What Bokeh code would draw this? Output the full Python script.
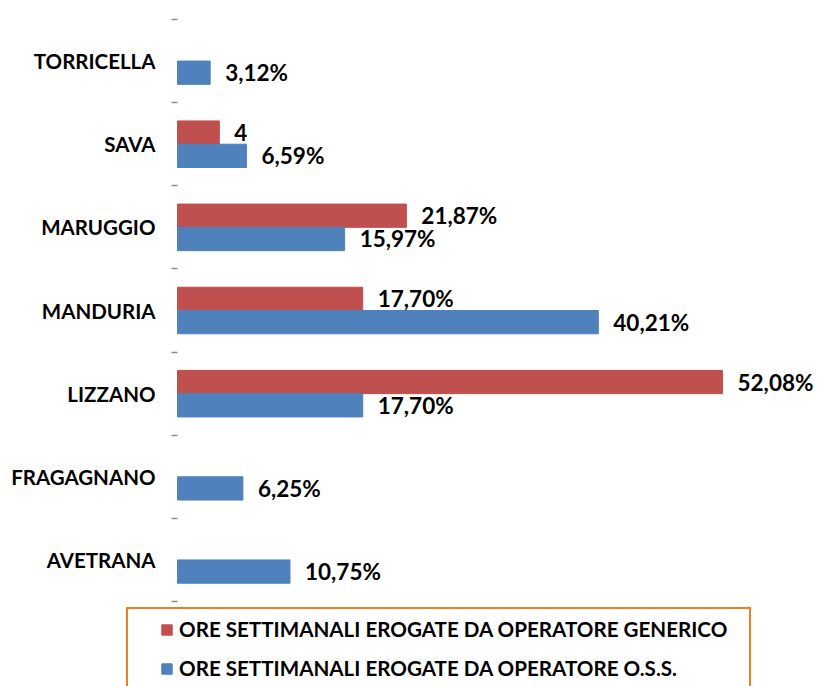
from bokeh.plotting import figure
from bokeh.models import (ColumnDataSource, Range1d, FixedTicker, Legend, LegendItem)
from bokeh.transform import dodge
from bokeh.core.properties import value
from bokeh.embed import file_html
from bokeh.resources import INLINE

# ---- data ----
cities = ["AVETRANA", "FRAGAGNANO", "LIZZANO", "MANDURIA", "MARUGGIO", "SAVA", "TORRICELLA"]
oss_values = [10.75, 6.25, 17.70, 40.21, 15.97, 6.59, 3.12]
oss_labels = ["10,75%", "6,25%", "17,70%", "40,21%", "15,97%", "6,59%", "3,12%"]
gen_values = [None, None, 52.08, 17.70, 21.87, 4, None]
gen_labels = [None, None, "52,08%", "17,70%", "21,87%", "4", None]
series_names = ["ORE SETTIMANALI EROGATE DA OPERATORE GENERICO",
                "ORE SETTIMANALI EROGATE DA OPERATORE O.S.S."]

RED = "#C0504D"
BLUE = "#4F81BD"
ORANGE = "#EF7D22"
FONT = "Lato"

W, H = 820, 686
PX_PER_PCT = 10.465         # horizontal scale
ZERO_X = 177                # page x of value 0
CAT_TOP, CAT_BOT = 19, 601  # page y of the category block
n = len(cities)
px_unit = (CAT_BOT - CAT_TOP) / n

ypos = [i + 0.5 for i in range(n)]
oss_src = ColumnDataSource(dict(y=ypos, v=oss_values, lab=oss_labels))
gi = [i for i, v in enumerate(gen_values) if v is not None]
gen_src = ColumnDataSource(dict(y=[ypos[i] for i in gi],
                                v=[gen_values[i] for i in gi],
                                lab=[gen_labels[i] for i in gi]))

x_start = -ZERO_X / PX_PER_PCT
x_end = (W - ZERO_X) / PX_PER_PCT
y_end = n + CAT_TOP / px_unit
y_start = -(H - CAT_BOT) / px_unit

p = figure(width=W, height=H, output_backend="svg", toolbar_location=None,
           x_range=Range1d(x_start, x_end), y_range=Range1d(y_start, y_end),
           min_border_left=0, min_border_right=0, min_border_top=0,
           min_border_bottom=0, outline_line_color=None)
p.xaxis.visible = False
p.xgrid.visible = False
p.ygrid.visible = False

bh = 0.28
r_gen = p.hbar(y=dodge("y", bh / 2, range=p.y_range), right="v", left=0, height=bh,
               source=gen_src, fill_color=RED, line_color=RED)
r_oss = p.hbar(y=dodge("y", -bh / 2, range=p.y_range), right="v", left=0, height=bh,
               source=oss_src, fill_color=BLUE, line_color=BLUE)

for src, off in ((gen_src, bh / 2), (oss_src, -bh / 2)):
    p.text(x="v", y=dodge("y", off, range=p.y_range), text="lab", source=src,
           x_offset=15, text_align="left", text_baseline="middle",
           text_font=value(FONT), text_font_style="bold", text_font_size="22.5px",
           text_color="black")

ax = p.yaxis[0]
ax.fixed_location = 0
ax.ticker = FixedTicker(ticks=ypos, minor_ticks=list(range(n + 1)))
ax.major_label_overrides = {y: c for y, c in zip(ypos, cities)}
ax.axis_line_color = None
ax.major_tick_line_color = None
ax.major_tick_out = 0
ax.major_tick_in = 0
ax.minor_tick_line_color = "#8c8c8c"
ax.minor_tick_line_width = 1.5
ax.minor_tick_out = 6
ax.minor_tick_in = 0
ax.major_label_standoff = 16
ax.major_label_text_font = FONT
ax.major_label_text_font_style = "bold"
ax.major_label_text_font_size = "20.5px"
ax.major_label_text_color = "black"

legend = Legend(items=[LegendItem(label=series_names[0], renderers=[r_gen]),
                       LegendItem(label=series_names[1], renderers=[r_oss])],
                orientation="vertical",
                glyph_width=13, glyph_height=13, label_standoff=6,
                label_height=28, spacing=11,
                label_text_font=FONT, label_text_font_style="bold",
                label_text_font_size="20.6px", label_text_color="black",
                label_text_baseline="middle",
                border_line_color=ORANGE, border_line_width=2,
                border_line_alpha=1.0,
                background_fill_color="white", background_fill_alpha=1.0)
try:
    legend.padding = dict(left=32, right=22, top=6, bottom=6)
    legend.location = (126, -4)
except Exception:
    legend.padding = 6
    legend.label_width = 569
    legend.location = (152, -4)
p.add_layout(legend, "center")

open("out.html", "w").write(file_html(p, INLINE))
